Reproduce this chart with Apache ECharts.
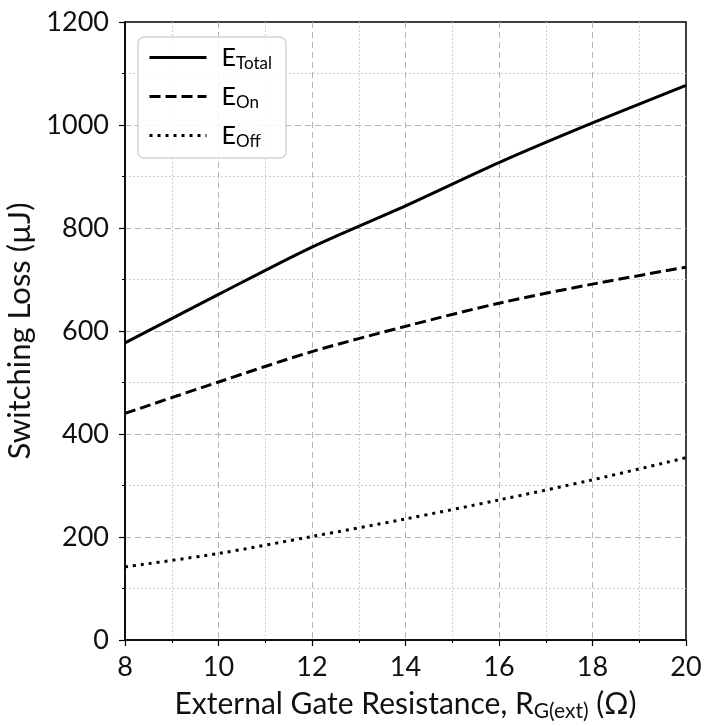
<!DOCTYPE html>
<html>
<head>
<meta charset="utf-8">
<script src="https://cdn.jsdelivr.net/npm/echarts@6/dist/echarts.min.js"></script>
<style>
  html, body { margin: 0; padding: 0; background: #fff; }
  #chart { width: 705px; height: 726px; }
</style>
</head>
<body>
<div id="chart"></div>
<script>
// Gate resistance (Ω)
const gateResistance = [8, 10, 12, 14, 16, 18, 20];
// Switching energies (µJ)
const eTotal = [577, 671, 763, 843, 927, 1004, 1077];
const eOn    = [440, 501, 560, 609, 654, 691, 724];
const eOff   = [142, 168, 201, 235, 272, 311, 354];

const seriesNames = ['E_Total', 'E_On', 'E_Off'];
const seriesSubs = { E_Total: 'Total', E_On: 'On', E_Off: 'Off' };

const FONT = 'Lato, "DejaVu Sans", sans-serif';

const pairs = (ys) => gateResistance.map((x, i) => [x, ys[i]]);

const chart = echarts.init(document.getElementById('chart'), null, { renderer: 'canvas' });

const majorGrid = {
  show: true, showMinLine: false, showMaxLine: false,
  lineStyle: { color: '#b3b3b3', width: 1, type: [6, 4] }
};
const minorGrid = { show: true, lineStyle: { color: '#cfcfcf', width: 1, type: [2, 2] } };

const axisCommon = {
  axisLine: { show: true, lineStyle: { color: '#000', width: 1.5 } },
  axisTick: { show: true, inside: false, length: 6, lineStyle: { color: '#000', width: 1.2 } },
  minorTick: { show: true, splitNumber: 2, length: 3, lineStyle: { color: '#000', width: 1 } },
  splitLine: majorGrid,
  minorSplitLine: minorGrid
};

chart.setOption({
  animation: false,
  backgroundColor: '#ffffff',
  grid: {
    left: 125, right: 19, top: 22, bottom: 86,
    containLabel: false, outerBoundsMode: 'none',
    show: true, borderColor: '#000', borderWidth: 1.5, backgroundColor: 'transparent'
  },
  legend: {
    data: seriesNames,
    left: 138, top: 37,
    orient: 'vertical',
    padding: [6, 14, 8, 10],
    itemWidth: 57, itemHeight: 14, itemGap: 10,
    backgroundColor: 'rgba(255,255,255,0.85)',
    borderColor: '#d4d4d4', borderWidth: 1.5, borderRadius: 6,
    itemStyle: { opacity: 0 },
    lineStyle: { width: 3 },
    formatter: (name) => '{e|E}{s|' + seriesSubs[name] + '}',
    textStyle: {
      fontFamily: FONT, color: '#000', padding: [0, 0, 0, 10],
      rich: {
        e: { fontSize: 25, fontFamily: FONT, color: '#000', lineHeight: 28 },
        s: { fontSize: 17, fontFamily: FONT, color: '#000', lineHeight: 28, padding: [12, 0, 0, 0] }
      }
    }
  },
  xAxis: Object.assign({
    type: 'value', min: 8, max: 20, interval: 2,
    name: '{t|External Gate Resistance, R}{sub|G(ext)}{t| (Ω)}',
    nameLocation: 'middle', nameGap: 46,
    nameTextStyle: {
      rich: {
        t: { fontSize: 30, fontFamily: FONT, color: '#111', lineHeight: 36 },
        sub: { fontSize: 21, fontFamily: FONT, color: '#111', lineHeight: 36, padding: [14, 0, 0, 0] }
      }
    },
    axisLabel: { fontSize: 27, fontFamily: FONT, color: '#111', margin: 14 }
  }, axisCommon),
  yAxis: Object.assign({
    type: 'value', min: 0, max: 1200, interval: 200,
    name: 'Switching Loss (µJ)',
    nameLocation: 'middle', nameGap: 88,
    nameTextStyle: { fontSize: 31, fontFamily: FONT, color: '#111' },
    axisLabel: {
      fontSize: 27, fontFamily: FONT, color: '#111', margin: 16,
      formatter: (v) => String(v)
    }
  }, axisCommon),
  series: [
    {
      name: 'E_Total', type: 'line', data: pairs(eTotal), smooth: 0.3,
      showSymbol: false, symbol: 'none', color: '#000',
      lineStyle: { color: '#000', width: 3, type: 'solid' }
    },
    {
      name: 'E_On', type: 'line', data: pairs(eOn), smooth: 0.3,
      showSymbol: false, symbol: 'none', color: '#000',
      lineStyle: { color: '#000', width: 3, type: [11, 5], cap: 'butt' }
    },
    {
      name: 'E_Off', type: 'line', data: pairs(eOff), smooth: 0.3,
      showSymbol: false, symbol: 'none', color: '#000',
      lineStyle: { color: '#000', width: 3, type: [3, 5], cap: 'butt' }
    }
  ]
});
</script>
</body>
</html>
